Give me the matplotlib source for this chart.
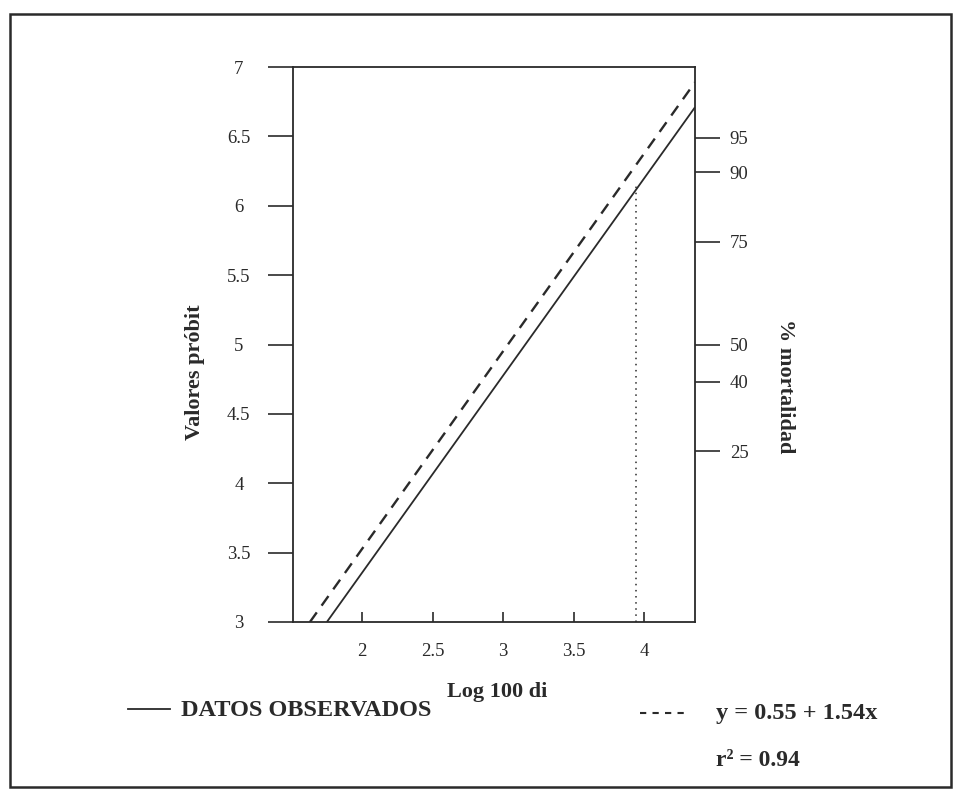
import matplotlib
matplotlib.use("Agg")
import matplotlib.pyplot as plt
from matplotlib.patches import Rectangle

plt.rcParams['font.family'] = ['Liberation Serif', 'DejaVu Serif']

# lines (Log 100 di vs probit)
observed_x = [1.75, 4.36]
observed_y = [3.0, 6.71]
fitted_x = [1.63, 4.36]
fitted_y = [3.0, 6.89]
marker_x = 3.94
marker_top = 6.15

x_ticks = [2, 2.5, 3, 3.5, 4]
x_labels = ["2", "2.5", "3", "3.5", "4"]
y_ticks = [3, 3.5, 4, 4.5, 5, 5.5, 6, 6.5, 7]
y_labels = ["3", "3.5", "4", "4.5", "5", "5.5", "6", "6.5", "7"]
mort_pos = [6.49, 6.24, 5.74, 5.0, 4.73, 4.23]
mort_labels = ["95", "90", "75", "50", "40", "25"]

ink = "#2a2a2a"
W, H = 955, 792

fig = plt.figure(figsize=(9.55, 7.92), dpi=100)
ax = fig.add_axes([293 / W, 1 - 622 / H, (695 - 293) / W, (622 - 67) / H])

ax.plot(observed_x, observed_y, color=ink, lw=1.3, solid_capstyle='butt')
ax.plot(fitted_x, fitted_y, color=ink, lw=1.7, ls=(0, (5, 3.5)))
ax.plot([marker_x, marker_x], [3, marker_top], color=ink, lw=1.1, ls=(0, (1, 3)))

ax.set_xlim(1.51, 4.36)
ax.set_ylim(3, 7)

ax.set_xticks(x_ticks)
ax.set_xticklabels(x_labels)
ax.set_yticks(y_ticks)
ax.set_yticklabels(y_labels)
ax.tick_params(axis='x', direction='in', length=7, width=1.2, pad=15,
               labelsize=13.5, colors=ink)
ax.tick_params(axis='y', direction='out', length=18, width=1.2, pad=21,
               labelsize=13.5, colors=ink)
for lab in ax.get_yticklabels():
    lab.set_horizontalalignment('center')
for sp in ax.spines.values():
    sp.set_color(ink)
    sp.set_linewidth(1.3)

ax2 = ax.twinx()
ax2.set_ylim(3, 7)
ax2.set_yticks(mort_pos)
ax2.set_yticklabels(mort_labels)
ax2.tick_params(axis='y', direction='out', length=18, width=1.2, pad=7,
                labelsize=13.5, colors=ink)
for sp in ax2.spines.values():
    sp.set_visible(False)

fig.text(497 / W, 1 - 692 / H, "Log 100 di", ha='center', va='center',
         fontsize=16, fontweight='bold', color=ink)
fig.text(195 / W, 1 - 372 / H, "Valores próbit", ha='center', va='center',
         rotation=90, fontsize=16, fontweight='bold', color=ink)
fig.text(785 / W, 1 - 386 / H, "% mortalidad", ha='center', va='center',
         rotation=270, fontsize=16, fontweight='bold', color=ink)

# legend drawn by hand in figure coordinates
fig.add_artist(plt.Line2D([128 / W, 170 / W], [1 - 709 / H, 1 - 709 / H],
                          color=ink, lw=1.3))
fig.text(181 / W, 1 - 711 / H, "DATOS OBSERVADOS", ha='left', va='center',
         fontsize=17.5, fontweight='bold', color=ink)
fig.add_artist(plt.Line2D([640 / W, 690 / W], [1 - 713 / H, 1 - 713 / H],
                          color=ink, lw=1.5, ls=(0, (3, 3))))
fig.text(716 / W, 1 - 713 / H, "y = 0.55 + 1.54x", ha='left', va='center',
         fontsize=17.5, fontweight='bold', color=ink)
fig.text(716 / W, 1 - 760 / H, "r² = 0.94", ha='left', va='center',
         fontsize=17, fontweight='bold', color=ink)

fig.add_artist(Rectangle((10 / W, 1 - 787 / H), (951 - 10) / W, (787 - 14) / H,
                         transform=fig.transFigure, fill=False,
                         edgecolor=ink, lw=1.8))

fig.savefig("out.png", dpi=100)
